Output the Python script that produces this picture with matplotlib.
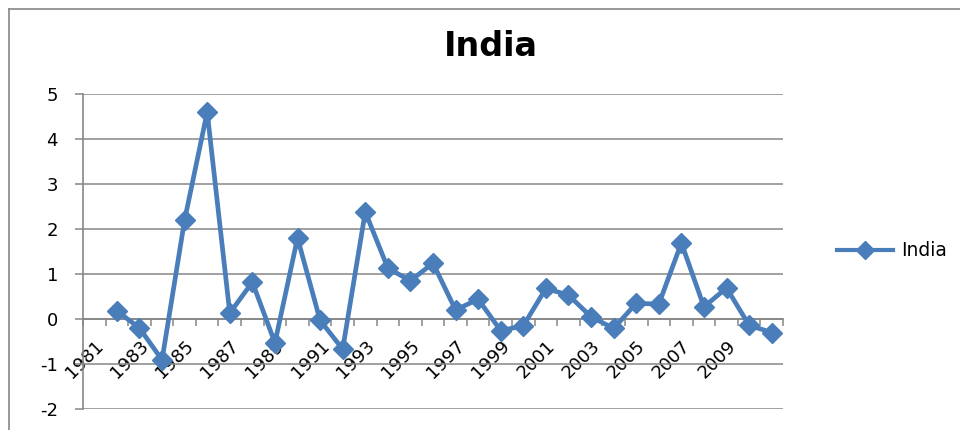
import matplotlib
matplotlib.use("Agg")
import matplotlib.pyplot as plt
from matplotlib.lines import Line2D
import numpy as np

plt.rcParams["axes.unicode_minus"] = False

# Yearly series for India
categories = [str(y) for y in range(1981, 2012)]
values = [None, 0.18, -0.20, -0.91, 2.20, 4.60, 0.13, 0.82, -0.53, 1.80,
          -0.03, -0.67, 2.38, 1.13, 0.85, 1.24, 0.20, 0.44, -0.26, -0.15,
          0.68, 0.53, 0.05, -0.21, 0.35, 0.33, 1.69, 0.27, 0.69, -0.14, -0.30]
tick_labels = [c if i % 2 == 0 and i < 30 else "" for i, c in enumerate(categories)]
series_name = "India"

W, H = 960, 430
fig = plt.figure(figsize=(W / 100, H / 100), dpi=100)
fig.patch.set_facecolor("white")

# chart frame
grey = "#868686"
fig.add_artist(Line2D([9 / W, 1.0], [1 - 9 / H, 1 - 9 / H], color=grey, lw=1.2))
fig.add_artist(Line2D([9 / W, 9 / W], [0, 1 - 9 / H], color=grey, lw=1.2))

left, right, top, bottom = 83, 783, 94, 409
ax = fig.add_axes([left / W, 1 - bottom / H, (right - left) / W, (bottom - top) / H])

n = len(categories)
x = np.arange(n) + 0.5
y = np.array([np.nan if v is None else v for v in values], dtype=float)

blue = "#4A7EBB"
ax.plot(x, y, color=blue, lw=3.4, marker="D", markersize=10,
        markerfacecolor=blue, markeredgecolor=blue, label=series_name,
        solid_joinstyle="round", zorder=3)

ax.set_xlim(0, n)
ax.set_ylim(-2, 5)
ax.set_yticks(range(-2, 6))
ax.grid(axis="y", color=grey, lw=1.1)
ax.set_axisbelow(True)

for s in ["top", "right"]:
    ax.spines[s].set_visible(False)
ax.spines["left"].set_color(grey)
ax.spines["left"].set_linewidth(1.2)
ax.spines["bottom"].set_position(("data", 0))
ax.spines["bottom"].set_color(grey)
ax.spines["bottom"].set_linewidth(1.2)

ax.tick_params(axis="y", direction="out", length=6, width=1.1, color=grey,
               pad=12, labelsize=13, labelcolor="black")

# category boundary ticks on the zero line, labels at category centres
ax.set_xticks(np.arange(n + 1))
ax.set_xticklabels([])
ax.tick_params(axis="x", which="major", direction="out", length=5, width=1.1, color=grey)
ax.set_xticks(x, minor=True)
ax.set_xticklabels(tick_labels, minor=True, rotation=45, ha="right",
                   rotation_mode="anchor", fontsize=13)
ax.tick_params(axis="x", which="minor", length=0, pad=13)

fig.text(491 / W, 1 - 47 / H, "India", ha="center", va="center",
         fontsize=24, fontweight="bold")

leg = fig.legend(loc="center left", bbox_to_anchor=(829 / W, 1 - 251 / H),
                 frameon=False, fontsize=13.5, handlelength=3.0, handletextpad=0.45,
                 borderaxespad=0)
for h in leg.legend_handles:
    h.set_markersize(9)
    h.set_linewidth(3)

fig.savefig("out.png", dpi=100)
